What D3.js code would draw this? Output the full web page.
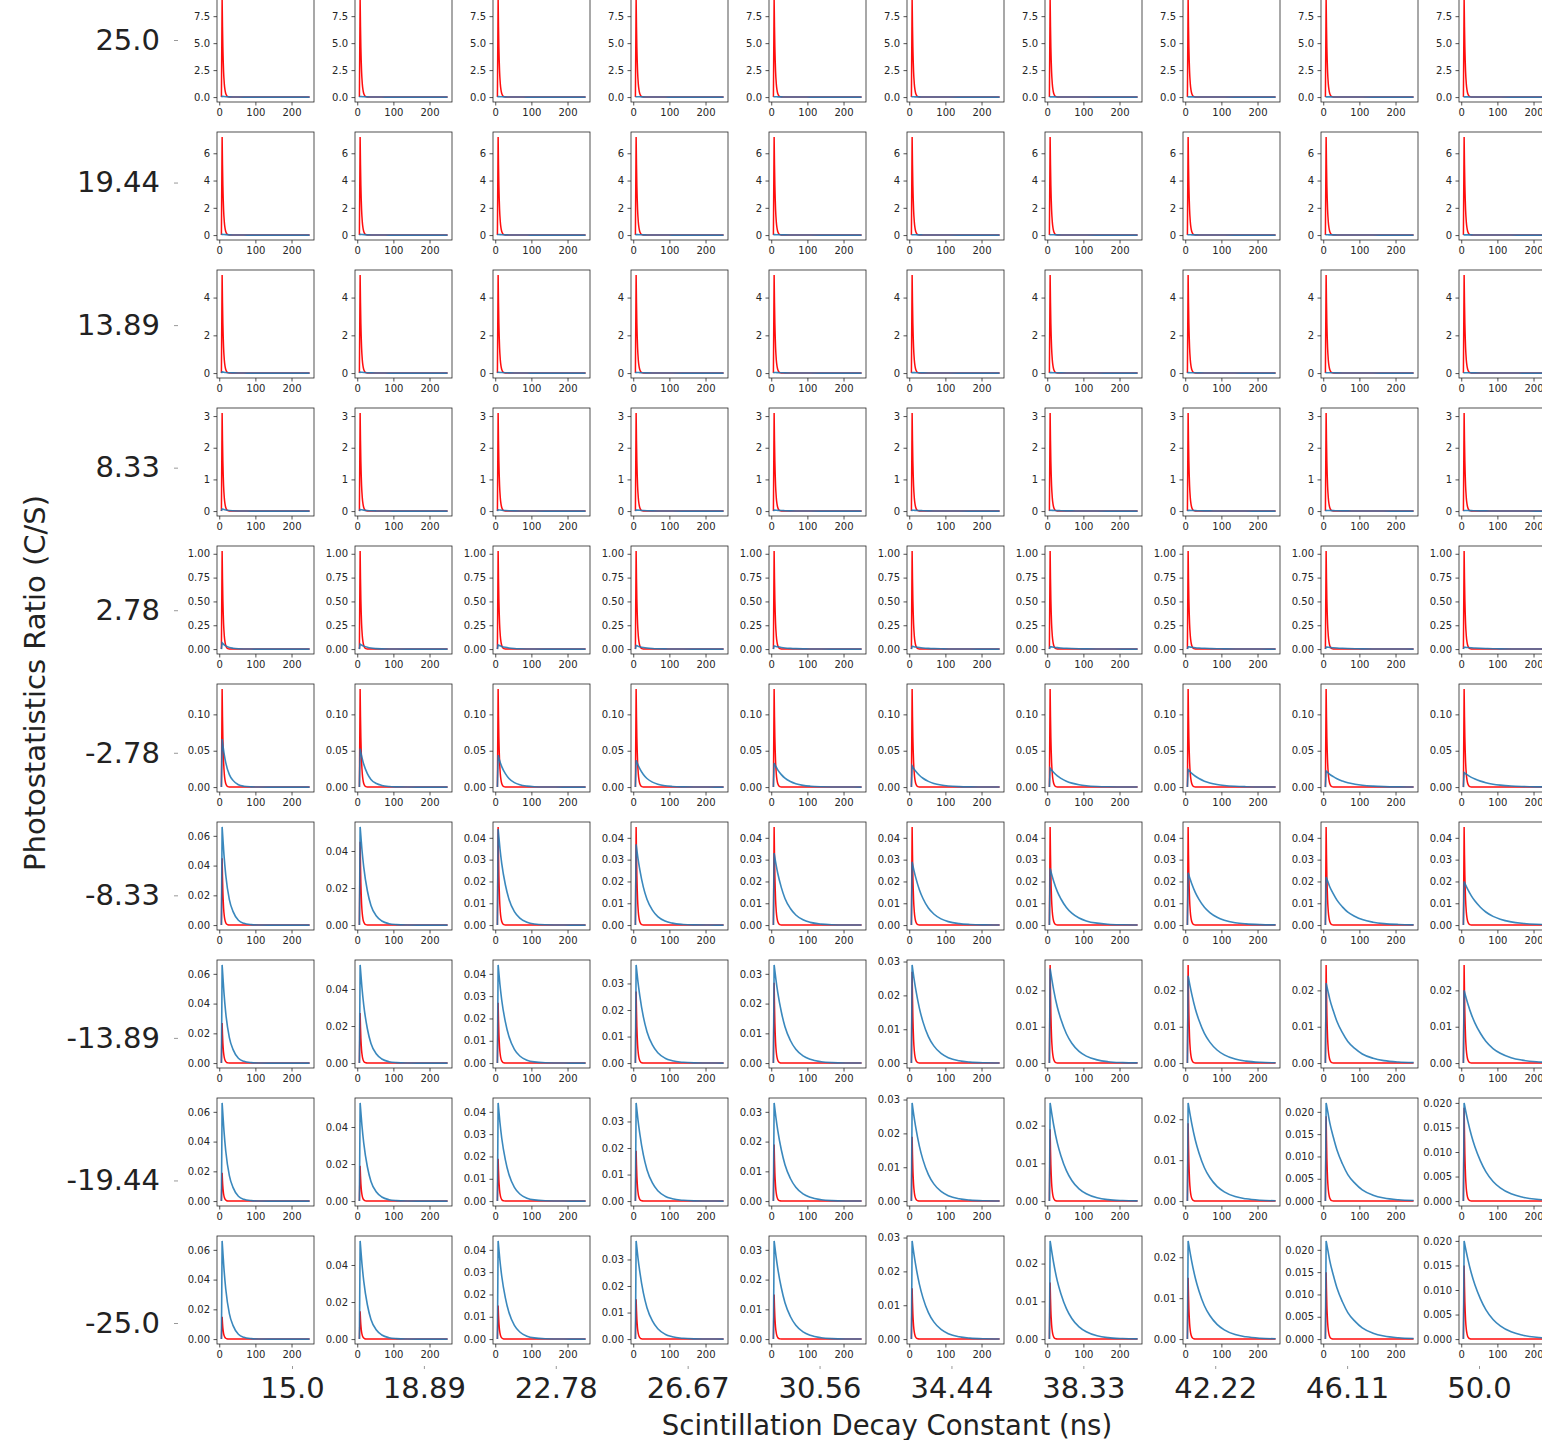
<!DOCTYPE html>
<html>
<head>
<meta charset="utf-8">
<script src="https://cdn.jsdelivr.net/npm/d3@7"></script>
<style>
html, body { margin: 0; padding: 0; background: #fff; overflow: hidden; }
svg { display: block; font-family: "DejaVu Sans", sans-serif; }
</style>
</head>
<body>
<svg id="chart" width="1542" height="1440"></svg>
<script>
// ---- values ----
// rows: photostatistics ratio (C/S), top to bottom
const ratioLabels = ["25.0", "19.44", "13.89", "8.33", "2.78", "-2.78", "-8.33", "-13.89", "-19.44", "-25.0"];
// columns: scintillation decay constant (ns), left to right
const decayLabels = ["15.0", "18.89", "22.78", "26.67", "30.56", "34.44", "38.33", "42.22", "46.11", "50.0"];

// peak height of the red (fast) pulse, one per row
const redPeak = [9.1, 7.2, 5.2, 3.1, 1.03, 0.135, 0.045, 0.027, 0.019, 0.015];
// peak height of the blue (scintillation) pulse, one per column
const bluePeak = [0.066, 0.053, 0.044, 0.037, 0.033, 0.029, 0.026, 0.024, 0.022, 0.020];

// both pulses rise at x=6 and peak at x=8, data runs to x=250
const startX = 6, peakX = 8, endX = 250;

// red pulse shape, fraction of its peak at distance from the peak
const redOffsets = [0, 1, 2, 3, 4, 6, 8, 10, 13, 16, 20, 30, 242];
const redShape   = [1, 0.72, 0.51, 0.37, 0.26, 0.135, 0.07, 0.036, 0.013, 0.005, 0.0013, 0, 0];

// blue pulse shape per column, fraction of its peak at distance from the peak
const blueOffsets = [0, 5, 10, 20, 30, 45, 60, 80, 100, 130, 160, 200, 242];
const blueShape15    = [1, 0.72, 0.51, 0.26, 0.14, 0.05, 0.018, 0.005, 0.001, 0, 0, 0, 0];
const blueShape18_89 = [1, 0.77, 0.59, 0.35, 0.20, 0.092, 0.042, 0.014, 0.005, 0.001, 0, 0, 0];
const blueShape22_78 = [1, 0.80, 0.64, 0.42, 0.27, 0.14, 0.072, 0.030, 0.012, 0.003, 0.001, 0, 0];
const blueShape26_67 = [1, 0.83, 0.69, 0.47, 0.32, 0.185, 0.105, 0.050, 0.024, 0.008, 0.0025, 0.0006, 0];
const blueShape30_56 = [1, 0.85, 0.72, 0.52, 0.37, 0.23, 0.14, 0.073, 0.038, 0.014, 0.005, 0.0014, 0.0004];
const blueShape34_44 = [1, 0.865, 0.75, 0.56, 0.42, 0.27, 0.175, 0.098, 0.055, 0.023, 0.0096, 0.003, 0.0009];
const blueShape38_33 = [1, 0.88, 0.77, 0.59, 0.46, 0.31, 0.21, 0.124, 0.074, 0.034, 0.015, 0.0054, 0.0018];
const blueShape42_22 = [1, 0.89, 0.79, 0.62, 0.49, 0.34, 0.24, 0.15, 0.094, 0.046, 0.023, 0.0088, 0.0032];
const blueShape46_11 = [1, 0.90, 0.80, 0.65, 0.52, 0.38, 0.27, 0.18, 0.114, 0.060, 0.031, 0.013, 0.0053];
const blueShape50    = [1, 0.905, 0.82, 0.67, 0.55, 0.41, 0.30, 0.20, 0.135, 0.074, 0.041, 0.018, 0.0079];
const blueShapes = [blueShape15, blueShape18_89, blueShape22_78, blueShape26_67, blueShape30_56,
                    blueShape34_44, blueShape38_33, blueShape42_22, blueShape46_11, blueShape50];

const xTickValues = [0, 100, 200];
const niceSteps = [1, 2, 2.5, 5, 10];   // matplotlib-like tick steps
const maxBins = 5;

// ---- layout ----
const svg = d3.select("#chart");
const panelLeft0 = 217, colStep = 138, panelW = 97;
const panelTop0 = -6, rowStep = 138, panelH = 108;
const tickColor = "#262626";

// pick a step the way matplotlib's MaxNLocator does
function pickStep(span) {
	const raw = span / maxBins;
	let p = Math.pow(10, Math.floor(Math.log10(raw)));
	for (const s of niceSteps) {
		if (s * p >= raw * (1 - 1e-9)) {
			if (s === 10) return { step: p * 10, dec: Math.max(0, -Math.round(Math.log10(p * 10))) };
			let dec = Math.max(0, -Math.round(Math.log10(p))) + (s === 2.5 ? 1 : 0);
			return { step: s * p, dec: dec };
		}
	}
}

// x domain with matplotlib's 5% margins
const xPad = (endX - startX) * 0.05;

ratioLabels.forEach((rl, r) => {
	decayLabels.forEach((dl, c) => {
		const left = panelLeft0 + c * colStep;
		const top = panelTop0 + r * rowStep;
		const g = svg.append("g").attr("transform", `translate(${left},${top})`);

		const M = Math.max(redPeak[r], bluePeak[c]);
		const x = d3.scaleLinear().domain([startX - xPad, endX + xPad]).range([0, panelW]);
		const y = d3.scaleLinear().domain([-0.05 * M, 1.05 * M]).range([panelH, 0]);

		const { step, dec } = pickStep(1.1 * M);
		const yTicks = d3.range(0, 1.05 * M + step * 1e-6, step);

		g.append("rect")
			.attr("width", panelW).attr("height", panelH)
			.attr("fill", "#fff");

		const line = d3.line().x(d => x(d[0])).y(d => y(d[1])).curve(d3.curveMonotoneX);

		// red pulse
		const redPts = redOffsets.map((o, i) => [peakX + o, redPeak[r] * redShape[i]]);
		g.append("path")
			.attr("d", `M${x(startX)},${y(0)}L` + line(redPts).slice(1))
			.attr("fill", "none")
			.attr("stroke", "#ff0000")
			.attr("stroke-width", 1.5)
			.attr("stroke-opacity", 0.95);

		// blue pulse
		const bluePts = blueOffsets.map((o, i) => [peakX + o, bluePeak[c] * blueShapes[c][i]]);
		g.append("path")
			.attr("d", `M${x(startX)},${y(0)}L` + line(bluePts).slice(1))
			.attr("fill", "none")
			.attr("stroke", "#1f77b4")
			.attr("stroke-width", 1.6)
			.attr("stroke-opacity", 0.88);

		g.append("rect")
			.attr("width", panelW).attr("height", panelH)
			.attr("fill", "none")
			.attr("stroke", tickColor)
			.attr("stroke-width", 0.8);

		const yAxis = g.append("g")
			.call(d3.axisLeft(y).tickValues(yTicks).tickFormat(d3.format(`.${dec}f`))
				.tickSize(3.5).tickPadding(3.5));
		const xAxis = g.append("g")
			.attr("transform", `translate(0,${panelH})`)
			.call(d3.axisBottom(x).tickValues(xTickValues).tickFormat(d3.format("d"))
				.tickSize(3.5).tickPadding(3.5));

		[yAxis, xAxis].forEach(a => {
			a.select(".domain").remove();
			a.selectAll("line").attr("stroke", tickColor).attr("stroke-width", 0.8);
			a.selectAll("text").attr("fill", tickColor)
				.style("font-family", "DejaVu Sans").style("font-size", "10px");
		});
	});
});

// ---- outer axes over the grid ----
const outerY = d3.scalePoint().domain(ratioLabels).range([40, 1323]);
const outerX = d3.scalePoint().domain(decayLabels).range([292, 1479]);

const oy = svg.append("g")
	.attr("transform", "translate(178,0)")
	.call(d3.axisLeft(outerY).tickSize(4).tickPadding(14));
const ox = svg.append("g")
	.attr("transform", "translate(0,1366)")
	.call(d3.axisBottom(outerX).tickSize(3).tickPadding(8));

[oy, ox].forEach(a => {
	a.select(".domain").remove();
	a.selectAll("line").attr("stroke", "#999").attr("stroke-width", 1);
	a.selectAll("text").attr("fill", "#222")
		.style("font-family", "DejaVu Sans").style("font-size", "29px");
});

svg.append("text")
	.attr("x", 887).attr("y", 1425)
	.attr("text-anchor", "middle").attr("dominant-baseline", "central")
	.attr("fill", "#222")
	.style("font-size", "27.5px")
	.text("Scintillation Decay Constant (ns)");

svg.append("text")
	.attr("transform", "translate(35,683) rotate(-90)")
	.attr("text-anchor", "middle").attr("dominant-baseline", "central")
	.attr("fill", "#222")
	.style("font-size", "29px")
	.text("Photostatistics Ratio (C/S)");
</script>
</body>
</html>
